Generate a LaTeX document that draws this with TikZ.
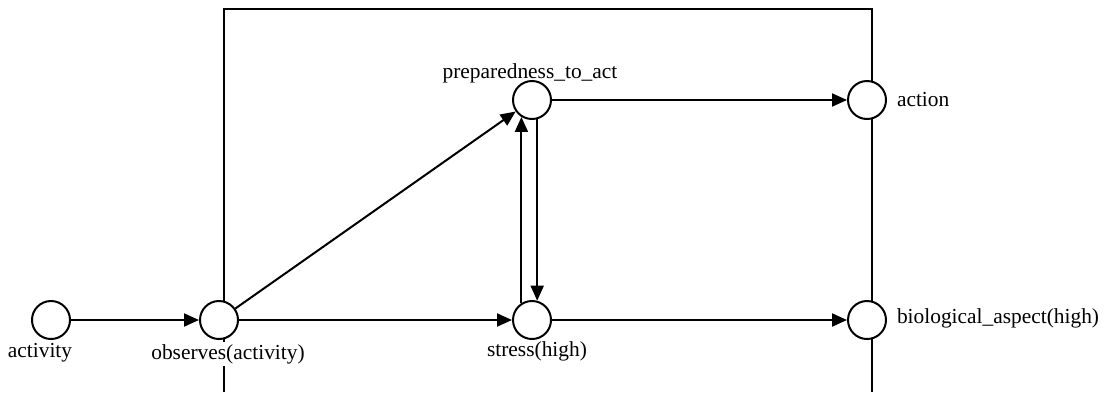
\documentclass[tikz,border=0pt]{standalone}
\usepackage{fontspec}
\setmainfont{Liberation Serif}
\usetikzlibrary{arrows.meta}
\begin{document}
\begin{tikzpicture}[x=0.5pt, y=-0.5pt, line width=1pt,
    every node/.style={font=\fontsize{10.7}{13}\selectfont},
    state/.style={circle, draw, fill=white, minimum size=19pt, inner sep=0pt},
    lbl/.style={fill=white, inner sep=1pt},
    arr/.style={-{Triangle[length=7.5pt, width=6.5pt]}}]
  \useasboundingbox (0,0) rectangle (1106,392);

  %% ---------- frame ----------
  \draw (224,392) -- (224,9) -- (872,9) -- (872,392);

  %% ---------- labels ----------
  \node[lbl] (lact)    at (40,353)  {activity};
  \node[lbl] (lobs)    at (228,354) {observes(activity)};
  \node[lbl] (lprep)   at (530,73)  {preparedness\_to\_act};
  \node[lbl] (lstress) at (537,351) {stress(high)};
  \node[lbl, anchor=west] (laction) at (894,100) {action};
  \node[lbl, anchor=west] (lbio)    at (894,318) {biological\_aspect(high)};

  %% ---------- states ----------
  \node[state] (act)    at (51,320)  {};
  \node[state] (obs)    at (219,320) {};
  \node[state] (prep)   at (532,100) {};
  \node[state] (stress) at (532,320) {};
  \node[state] (action) at (867,100) {};
  \node[state] (bio)    at (867,320) {};

  %% ---------- connections ----------
  \draw[arr] (act) -- (obs);
  \draw[arr] (obs) -- (stress);
  \draw[arr] (obs) -- (prep);
  \draw[arr] (stress.122) -- (prep.238);
  \draw[arr] (prep.285) -- (stress.75);
  \draw[arr] (prep) -- (action);
  \draw[arr] (stress) -- (bio);
\end{tikzpicture}
\end{document}
